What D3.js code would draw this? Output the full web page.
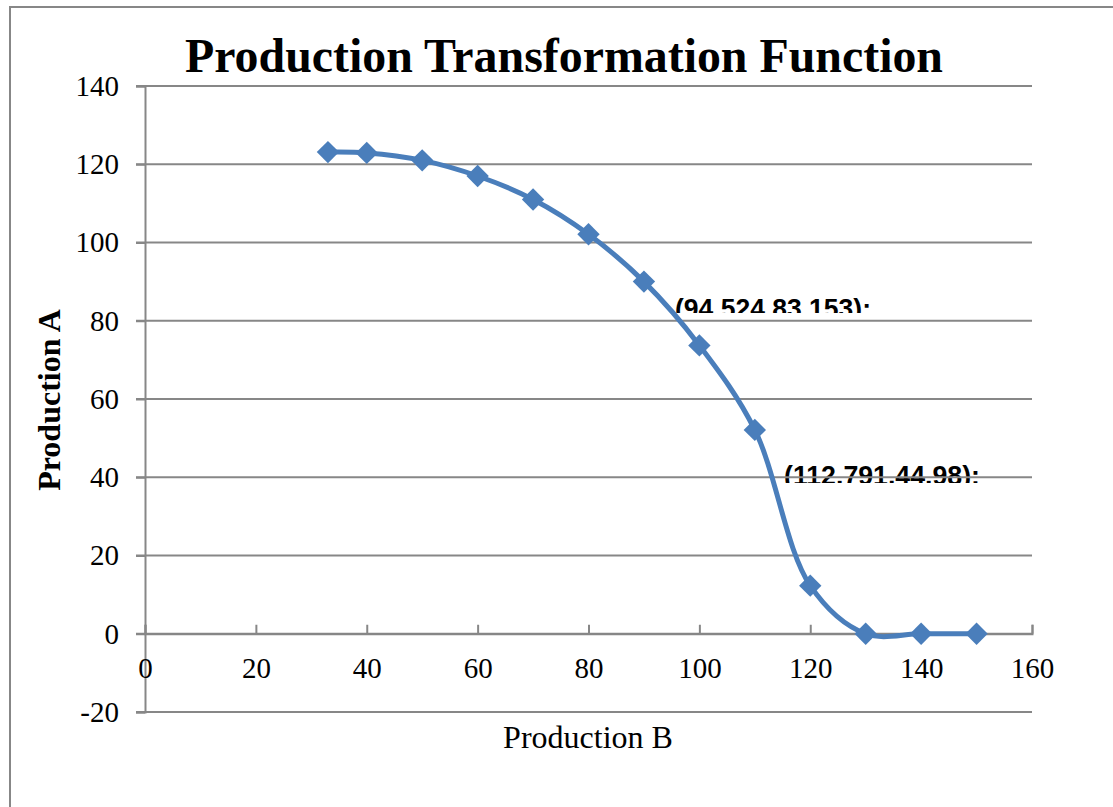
<!DOCTYPE html>
<html>
<head>
<meta charset="utf-8">
<script src="https://cdn.jsdelivr.net/npm/d3@7"></script>
<style>
  body { margin: 0; background: #fff; }
  svg { display: block; }
</style>
</head>
<body>
<div class="chart"></div>
<script>
// data
const PROD_B = [33, 40, 50, 60, 70, 80, 90, 100, 110, 120, 130, 140, 150];
const PROD_A = [123.1, 122.9, 121, 117, 111, 102.1, 90, 73.7, 52.1, 12.3, 0, 0, 0];
const X_TICKS = [0, 20, 40, 60, 80, 100, 120, 140, 160];
const Y_TICKS = [-20, 0, 20, 40, 60, 80, 100, 120, 140];
const LABELS = ["(94.524,83.153):", "(112.791,44.98):"];

const WIDTH = 1113;
const HEIGHT = 807;
const BLUE = "#4A7EBB";
const GREY = "#878787";
const SERIF = "Liberation Serif, Times New Roman, serif";

const svg = d3.select(".chart").append("svg")
  .attr("width", WIDTH)
  .attr("height", HEIGHT);

// outer chart frame
svg.append("rect")
  .attr("x", 10).attr("y", 7)
  .attr("width", WIDTH + 20).attr("height", HEIGHT + 20)
  .attr("fill", "none")
  .attr("stroke", GREY)
  .attr("stroke-width", 2);

const xScale = d3.scaleLinear().domain([0, 160]).range([145, 1032]);
const yScale = d3.scaleLinear().domain([-20, 140]).range([712, 86]);

// data labels sit under the gridlines and lose their bottom edge
const defs = svg.append("defs");
const labelG = svg.append("g").attr("class", "labels");
LABELS.forEach((t, i) => {
  const x0 = i === 0 ? 675 : 784;
  const base = i === 0 ? 318 : 485;
  const cut = i === 0 ? 313 : 483;
  defs.append("clipPath").attr("id", "cut" + i)
    .append("rect")
    .attr("x", 0).attr("y", 0)
    .attr("width", WIDTH).attr("height", cut);
  labelG.append("text")
    .attr("clip-path", `url(#cut${i})`)
    .attr("x", x0)
    .attr("y", base)
    .attr("font-family", "Liberation Sans, Arial, sans-serif")
    .attr("font-weight", "bold")
    .attr("font-size", 28)
    .attr("textLength", 196)
    .attr("lengthAdjust", "spacingAndGlyphs")
    .attr("fill", "#000")
    .text(t);
});

// horizontal gridlines
svg.append("g").attr("class", "grid")
  .selectAll("line")
  .data(Y_TICKS)
  .join("line")
  .attr("x1", xScale(0) - 9)
  .attr("x2", xScale(160))
  .attr("y1", d => yScale(d))
  .attr("y2", d => yScale(d))
  .attr("stroke", GREY)
  .attr("stroke-width", 2);

// y axis (line at x = 0)
const yAxis = svg.append("g")
  .attr("transform", `translate(${xScale(0)},0)`)
  .call(d3.axisLeft(yScale).tickValues(Y_TICKS).tickFormat(d => String(d))
    .tickSize(9).tickPadding(17));
yAxis.select(".domain").attr("stroke", GREY).attr("stroke-width", 2);
yAxis.selectAll(".tick line").attr("stroke", GREY).attr("stroke-width", 2);
yAxis.selectAll("text")
  .attr("font-family", SERIF)
  .attr("font-size", 29)
  .attr("fill", "#000");

// x axis along y = 0, ticks point up into the plot
const xAxis = svg.append("g")
  .attr("transform", `translate(0,${yScale(0)})`)
  .call(d3.axisTop(xScale).tickValues(X_TICKS).tickFormat(d => String(d))
    .tickSize(9).tickSizeOuter(9));
xAxis.select(".domain").attr("stroke", GREY).attr("stroke-width", 2);
xAxis.selectAll(".tick line").attr("stroke", GREY).attr("stroke-width", 2);
xAxis.selectAll("text")
  .attr("y", 34)
  .attr("dy", "0.35em")
  .attr("font-family", SERIF)
  .attr("font-size", 29)
  .attr("fill", "#000");

// series
const points = PROD_B.map((b, i) => ({ b, a: PROD_A[i] }));
const line = d3.line()
  .x(d => xScale(d.b))
  .y(d => yScale(d.a))
  .curve(d3.curveCatmullRom.alpha(0.5));

svg.append("path")
  .datum(points)
  .attr("d", line)
  .attr("fill", "none")
  .attr("stroke", BLUE)
  .attr("stroke-width", 5)
  .attr("stroke-linejoin", "round");

svg.append("g").attr("class", "markers")
  .selectAll("path")
  .data(points)
  .join("path")
  .attr("d", d3.symbol(d3.symbolSquare, 250))
  .attr("transform", d => `translate(${xScale(d.b)},${yScale(d.a)}) rotate(45)`)
  .attr("fill", BLUE);

// titles
svg.append("text")
  .attr("x", 185)
  .attr("y", 72)
  .attr("font-family", SERIF)
  .attr("font-weight", "bold")
  .attr("font-size", 48)
  .attr("textLength", 758)
  .attr("lengthAdjust", "spacingAndGlyphs")
  .text("Production Transformation Function");

svg.append("text")
  .attr("x", 588)
  .attr("y", 748)
  .attr("text-anchor", "middle")
  .attr("font-family", SERIF)
  .attr("font-size", 32)
  .text("Production B");

svg.append("text")
  .attr("transform", "translate(60,400) rotate(-90)")
  .attr("text-anchor", "middle")
  .attr("font-family", SERIF)
  .attr("font-weight", "bold")
  .attr("font-size", 32)
  .text("Production A");
</script>
</body>
</html>
